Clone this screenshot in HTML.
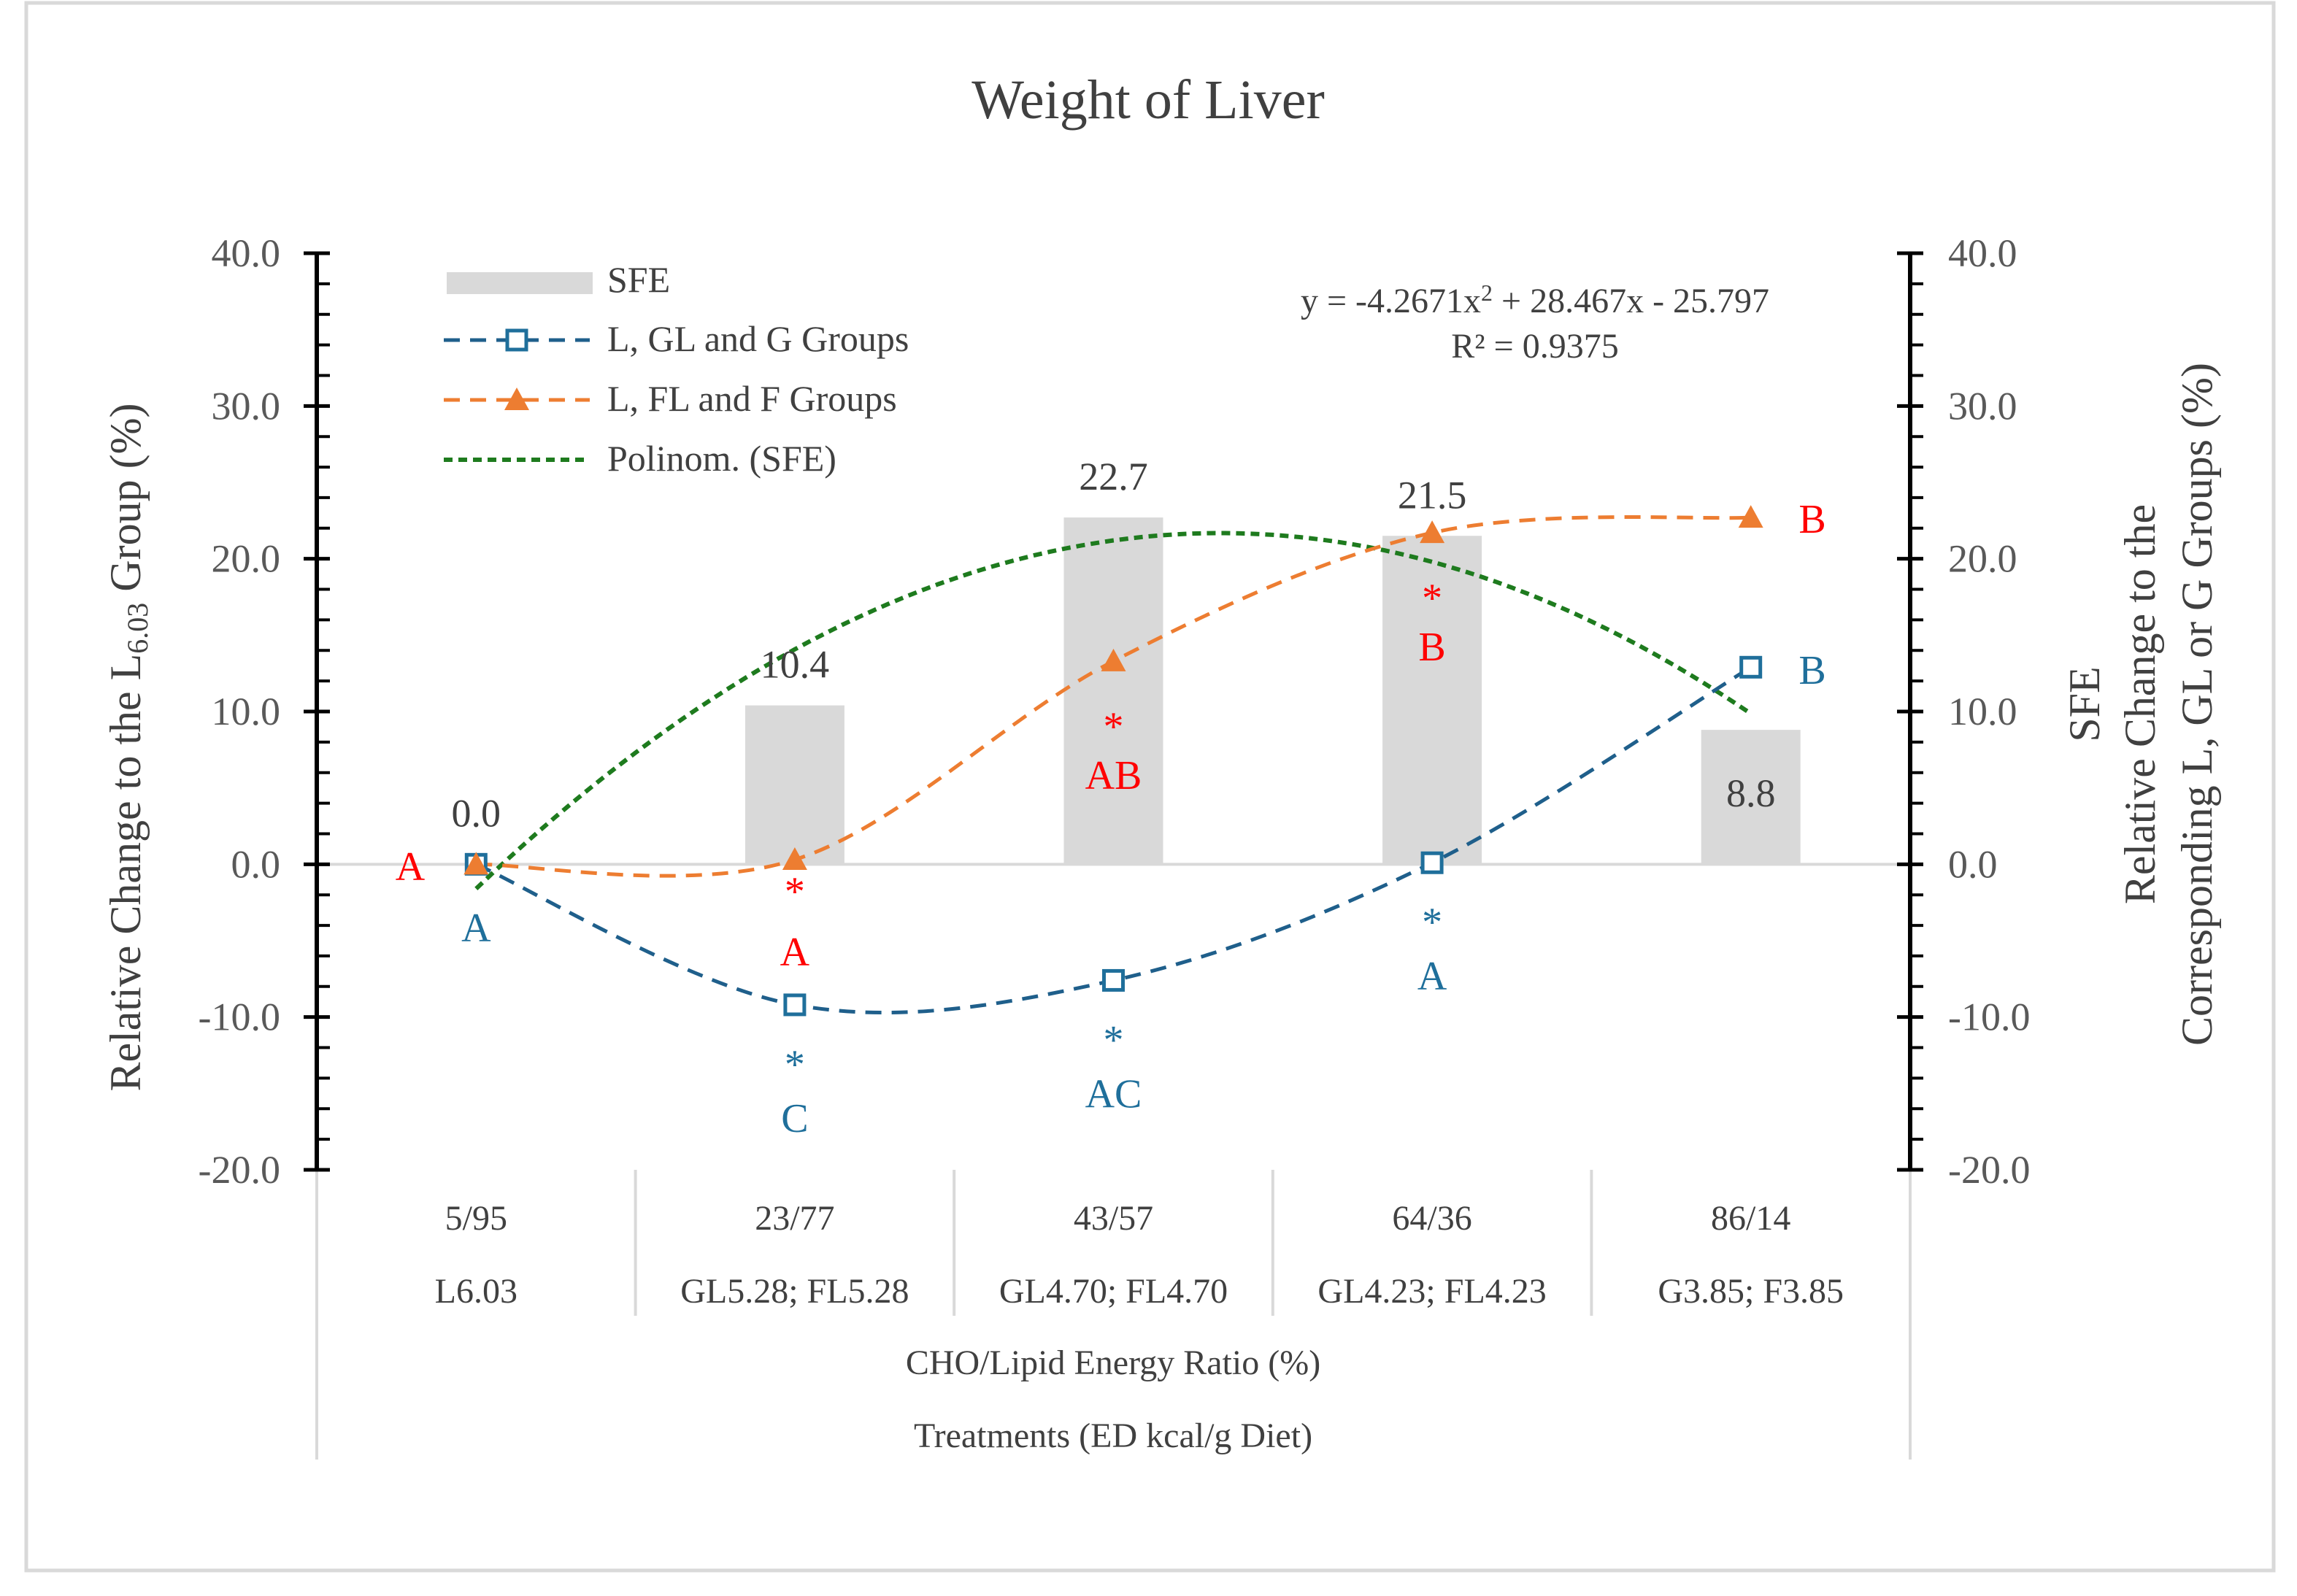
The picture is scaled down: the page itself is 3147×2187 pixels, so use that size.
<!DOCTYPE html>
<html><head><meta charset="utf-8"><style>
html,body{margin:0;padding:0;background:#fff;}
svg{display:block;font-family:"Liberation Serif",serif;}
</style></head><body>
<svg id="c" width="3147" height="2187" viewBox="0 0 3147 2187" xmlns="http://www.w3.org/2000/svg"></svg>
<script>
const categories = ["5/95","23/77","43/57","64/36","86/14"];
const treatments = ["L6.03","GL5.28; FL5.28","GL4.70; FL4.70","GL4.23; FL4.23","G3.85; F3.85"];
const sfeValues = [0.0, 10.4, 22.7, 21.5, 8.8];
const sfeLabels = ["0.0","10.4","22.7","21.5","8.8"];
const glValues = [0.0, -9.2, -7.6, 0.1, 12.9];
const flValues = [0.0, 0.3, 13.3, 21.7, 22.7];
const polyCoef = [-4.2671, 28.467, -25.797];
const yTicks = [40,30,20,10,0,-10,-20];
const flLetters = ["A","A","AB","B","B"];
const glLetters = ["A","C","AC","A","B"];

const svg = document.getElementById('c');
const NS = 'http://www.w3.org/2000/svg';
function el(tag, attrs, parent){const e=document.createElementNS(NS,tag);for(const k in attrs)e.setAttribute(k,attrs[k]);(parent||svg).appendChild(e);return e;}
function txt(x,y,t,attrs,parent){const e=el('text',Object.assign({x:x,y:y},attrs||{}),parent);e.textContent=t;return e;}

const xL = 434, xR = 2617, y40 = 347, yM20 = 1603;
function yS(v){return y40 + (40 - v)*(yM20 - y40)/60;}
const catW = (xR - xL)/5;
function xS(i){return xL + catW*(i+0.5);}

let f = el('rect',{x:36,y:4,width:3079,height:2148,fill:'none',stroke:'#d9d9d9','stroke-width':5});


let t = txt(1573,162,'Weight of Liver',{'text-anchor':'middle','font-size':76,fill:'#404040'});


for(let i=0;i<=5;i++){
  const x = xL + catW*i;
  const yb = (i===0||i===5)?2000:1803;
  const l = el('line',{x1:x,y1:yM20,x2:x,y2:yb,stroke:'#d9d9d9','stroke-width':4});
  
}
sfeValues.forEach((v,i)=>{
  const bw = 136;
  const r = el('rect',{x:xS(i)-bw/2,y:Math.min(yS(v),yS(0)),width:bw,height:Math.abs(yS(v)-yS(0)),fill:'#d9d9d9'});
  
});
let z = el('line',{x1:xL,y1:yS(0),x2:xR,y2:yS(0),stroke:'#d9d9d9','stroke-width':4});


function axis(x, side, name){
  const g = el('g',{});
  
  el('line',{x1:x,y1:y40,x2:x,y2:yM20,stroke:'#000','stroke-width':6},g);
  for(let v=40; v>=-20; v-=2){
    const major = v%10===0;
    const y = yS(v);
    if(major) el('line',{x1:x-18,y1:y,x2:x+18,y2:y,stroke:'#000','stroke-width':5},g);
    else el('line',{x1:x,y1:y,x2:x+18,y2:y,stroke:'#000','stroke-width':4},g);
  }
  yTicks.forEach(v=>{
    txt(side<0?x-50:x+52, yS(v)+18, v.toFixed(1), {'text-anchor':side<0?'end':'start','font-size':54,fill:'#595959'},g);
  });
}
axis(xL,-1,'left-y-axis');
axis(xR,1,'right-y-axis');

function smooth(pts){
  let d = 'M'+pts[0][0]+','+pts[0][1];
  for(let i=0;i<pts.length-1;i++){
    const p0=pts[Math.max(0,i-1)],p1=pts[i],p2=pts[i+1],p3=pts[Math.min(pts.length-1,i+2)];
    const k=1/6;
    d+=' C'+(p1[0]+(p2[0]-p0[0])*k)+','+(p1[1]+(p2[1]-p0[1])*k)+' '+(p2[0]-(p3[0]-p1[0])*k)+','+(p2[1]-(p3[1]-p1[1])*k)+' '+p2[0]+','+p2[1];
  }
  return d;
}
const polyPts=[];
for(let k=0;k<=80;k++){const xx=1+k*4/80;const yv=polyCoef[0]*xx*xx+polyCoef[1]*xx+polyCoef[2];polyPts.push([xS(xx-1),yS(yv)]);}
let pp = el('path',{d:'M'+polyPts.map(p=>p[0].toFixed(1)+','+p[1].toFixed(1)).join(' L'),fill:'none',stroke:'#1e7b1e','stroke-width':6,'stroke-dasharray':'12 8'});


let op = el('path',{d:smooth(flValues.map((v,i)=>[xS(i),yS(v)])),fill:'none',stroke:'#ed7d31','stroke-width':5,'stroke-dasharray':'22 14'});

let bp = el('path',{d:smooth(glValues.map((v,i)=>[xS(i),yS(v)])),fill:'none',stroke:'#1f5f8b','stroke-width':5,'stroke-dasharray':'22 14'});


glValues.forEach((v,i)=>{
  const m = el('rect',{x:xS(i)-13,y:yS(v)-13,width:26,height:26,fill:'#fff',stroke:'#1f6f9b','stroke-width':5});
  
});
flValues.forEach((v,i)=>{
  const x=xS(i),y=yS(v);
  const m = el('polygon',{points:(x-17)+','+(y+14)+' '+(x+17)+','+(y+14)+' '+x+','+(y-17),fill:'#ed7d31'});
  
});

sfeValues.forEach((v,i)=>{
  let y = i===4 ? yS(v)+105 : yS(v)-38;
  if(i===0) y = yS(0)-52;
  const l = txt(xS(i),y,sfeLabels[i],{'text-anchor':'middle','font-size':54,fill:'#404040'});
  
});

const red='#ff0000', blue='#1f6f9b';
function lab(x,y,s,c,n){const l=txt(x,y,s,{'text-anchor':'middle','font-size':56,fill:c});}
lab(562,1206,'A',red,'fl-letter-0');
lab(xS(0),1290,'A',blue,'gl-letter-0');
const flStarOff=[0,62,108,108], flLetOff=[0,145,175,175];
for(let i=1;i<4;i++){
  const fy=yS(flValues[i]), gy=yS(glValues[i]);
  lab(xS(i),fy+flStarOff[i],'*',red,'fl-star-'+i);
  lab(xS(i),fy+flLetOff[i],flLetters[i],red,'fl-letter-'+i);
  lab(xS(i),gy+100,'*',blue,'gl-star-'+i);
  lab(xS(i),gy+174,glLetters[i],blue,'gl-letter-'+i);
}
lab(2483,730,'B',red,'fl-letter-4');
lab(2483,937,'B',blue,'gl-letter-4');

const lg = el('g',{});
el('rect',{x:612,y:373,width:200,height:30,fill:'#d9d9d9'},lg);
txt(832,400,'SFE',{'font-size':50,fill:'#404040'},lg);
el('line',{x1:608,y1:466,x2:808,y2:466,stroke:'#1f5f8b','stroke-width':5,'stroke-dasharray':'22 14'},lg);
el('rect',{x:695,y:453,width:26,height:26,fill:'#fff',stroke:'#1f6f9b','stroke-width':5},lg);
txt(832,481,'L, GL and G Groups',{'font-size':50,fill:'#404040'},lg);
el('line',{x1:608,y1:548,x2:808,y2:548,stroke:'#ed7d31','stroke-width':5,'stroke-dasharray':'22 14'},lg);
el('polygon',{points:'691,562 725,562 708,531',fill:'#ed7d31'},lg);
txt(832,563,'L, FL and F Groups',{'font-size':50,fill:'#404040'},lg);
el('line',{x1:608,y1:630,x2:808,y2:630,stroke:'#1e7b1e','stroke-width':6,'stroke-dasharray':'12 8'},lg);
txt(832,645,'Polinom. (SFE)',{'font-size':50,fill:'#404040'},lg);

let eq = el('text',{x:2103,y:428,'text-anchor':'middle','font-size':48,fill:'#404040'});
eq.innerHTML='y = -4.2671x<tspan dy="-16" font-size="32">2</tspan><tspan dy="16"> + 28.467x - 25.797</tspan>';

let r2 = txt(2103,490,'R² = 0.9375',{'text-anchor':'middle','font-size':48,fill:'#404040'});


categories.forEach((c,i)=>{const l=txt(xS(i),1685,c,{'text-anchor':'middle','font-size':48,fill:'#404040'});});
treatments.forEach((c,i)=>{const l=txt(xS(i),1785,c,{'text-anchor':'middle','font-size':48,fill:'#404040'});});
let xt1=txt(1525,1883,'CHO/Lipid Energy Ratio (%)',{'text-anchor':'middle','font-size':48,fill:'#404040'});

let xt2=txt(1525,1983,'Treatments (ED kcal/g Diet)',{'text-anchor':'middle','font-size':48,fill:'#404040'});


let yl = el('text',{x:0,y:0,transform:'translate(192,1024) rotate(-90)','text-anchor':'middle','font-size':60,fill:'#404040'});
yl.innerHTML='Relative Change to the L<tspan dy="10" font-size="40">6.03</tspan><tspan dy="-10"> Group (%)</tspan>';

const rt = [['SFE',2876],['Relative Change to the',2952],['Corresponding L, GL or G Groups (%)',3030]];
rt.forEach((r,i)=>{const l=el('text',{x:0,y:0,transform:'translate('+r[1]+',965) rotate(-90)','text-anchor':'middle','font-size':60,fill:'#404040'});l.textContent=r[0];});
</script>
</body></html>
